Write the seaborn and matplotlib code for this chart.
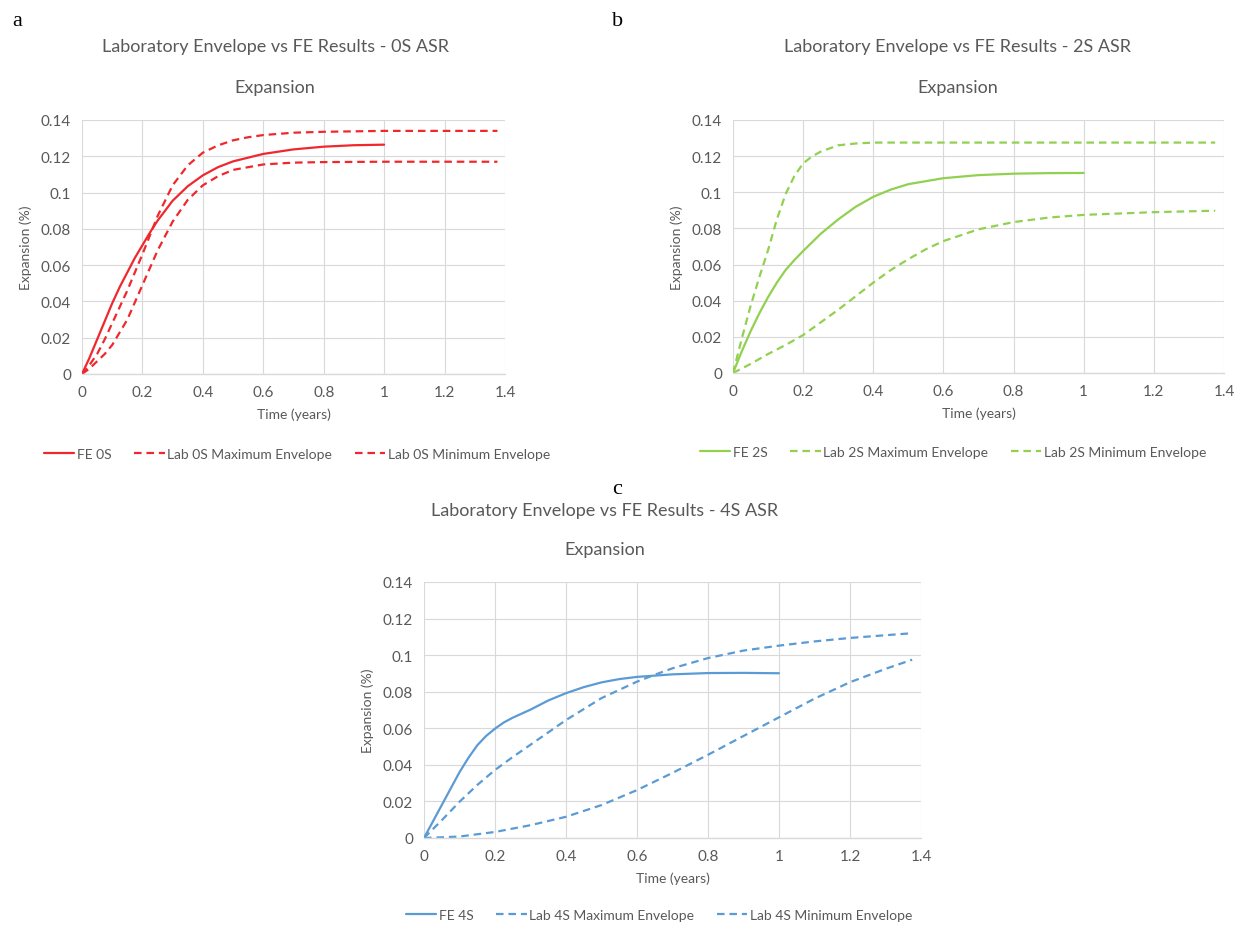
import matplotlib
matplotlib.use("Agg")
import matplotlib.pyplot as plt
import seaborn as sns
import pandas as pd

# ---------------- data ----------------
# Panel a (0S)
fe0_t = [0, 0.025, 0.05, 0.075, 0.1, 0.125, 0.15, 0.175, 0.2, 0.225, 0.25, 0.3, 0.35, 0.4, 0.45, 0.5, 0.6, 0.7, 0.8, 0.9, 1.0]
fe0_y = [0, 0.009, 0.019, 0.029, 0.039, 0.048, 0.056, 0.064, 0.071, 0.078, 0.0845, 0.0955, 0.1035, 0.1095, 0.114, 0.1172, 0.1213, 0.1238, 0.1253, 0.1261, 0.1264]
max0_t = [0, 0.025, 0.05, 0.075, 0.1, 0.15, 0.2, 0.25, 0.3, 0.35, 0.4, 0.45, 0.5, 0.55, 0.6, 0.7, 0.8, 1.0, 1.2, 1.375]
max0_y = [0, 0.005, 0.011, 0.019, 0.028, 0.046, 0.066, 0.087, 0.104, 0.115, 0.122, 0.126, 0.1288, 0.1305, 0.1317, 0.133, 0.1335, 0.134, 0.134, 0.134]
min0_t = [0, 0.025, 0.05, 0.075, 0.1, 0.15, 0.2, 0.25, 0.3, 0.35, 0.4, 0.45, 0.5, 0.6, 0.7, 0.8, 1.0, 1.2, 1.375]
min0_y = [0, 0.003, 0.007, 0.011, 0.016, 0.030, 0.049, 0.068, 0.084, 0.096, 0.104, 0.109, 0.1125, 0.1155, 0.1165, 0.1168, 0.117, 0.117, 0.117]

# Panel b (2S)
fe2_t = [0, 0.025, 0.05, 0.075, 0.1, 0.125, 0.15, 0.175, 0.2, 0.25, 0.3, 0.35, 0.4, 0.45, 0.5, 0.6, 0.7, 0.8, 0.9, 1.0]
fe2_y = [0, 0.012, 0.023, 0.033, 0.042, 0.050, 0.057, 0.0625, 0.0675, 0.077, 0.085, 0.092, 0.0975, 0.1015, 0.1045, 0.1078, 0.1095, 0.1103, 0.1106, 0.1107]
max2_t = [0, 0.025, 0.05, 0.075, 0.1, 0.125, 0.15, 0.175, 0.2, 0.225, 0.25, 0.3, 0.35, 0.4, 0.6, 0.8, 1.0, 1.2, 1.375]
max2_y = [0, 0.019, 0.037, 0.053, 0.068, 0.085, 0.099, 0.109, 0.116, 0.1198, 0.1225, 0.126, 0.127, 0.1275, 0.1275, 0.1275, 0.1275, 0.1275, 0.1275]
min2_t = [0, 0.05, 0.1, 0.15, 0.2, 0.25, 0.3, 0.35, 0.4, 0.45, 0.5, 0.55, 0.6, 0.7, 0.8, 0.9, 1.0, 1.2, 1.375]
min2_y = [0, 0.005, 0.0105, 0.0155, 0.021, 0.028, 0.035, 0.0425, 0.050, 0.057, 0.063, 0.0685, 0.073, 0.0795, 0.0835, 0.086, 0.0875, 0.089, 0.0898]

# Panel c (4S)
fe4_t = [0, 0.05, 0.1, 0.125, 0.15, 0.175, 0.2, 0.225, 0.25, 0.275, 0.3, 0.35, 0.4, 0.45, 0.5, 0.55, 0.6, 0.7, 0.8, 0.9, 1.0]
fe4_y = [0, 0.018, 0.036, 0.0438, 0.0507, 0.0558, 0.0598, 0.0632, 0.0658, 0.068, 0.0702, 0.0752, 0.0792, 0.0825, 0.0851, 0.0869, 0.0881, 0.0895, 0.0902, 0.0903, 0.0901]
max4_t = [0, 0.05, 0.1, 0.15, 0.2, 0.25, 0.3, 0.4, 0.5, 0.6, 0.65, 0.7, 0.8, 0.9, 1.0, 1.1, 1.2, 1.375]
max4_y = [0, 0.0097, 0.0198, 0.029, 0.0372, 0.0443, 0.051, 0.0645, 0.0765, 0.0855, 0.0893, 0.0928, 0.0984, 0.1025, 0.1052, 0.1075, 0.1094, 0.112]
min4_t = [0, 0.1, 0.2, 0.3, 0.4, 0.5, 0.6, 0.7, 0.8, 0.9, 1.0, 1.1, 1.2, 1.3, 1.375]
min4_y = [0, 0.0008, 0.0033, 0.007, 0.0116, 0.018, 0.0262, 0.0356, 0.0455, 0.0558, 0.066, 0.0762, 0.0852, 0.0925, 0.0975]

x_ticks = [0, 0.2, 0.4, 0.6, 0.8, 1.0, 1.2, 1.4]
x_tick_labels = ["0", "0.2", "0.4", "0.6", "0.8", "1", "1.2", "1.4"]
y_ticks = [0, 0.02, 0.04, 0.06, 0.08, 0.1, 0.12, 0.14]
y_tick_labels = ["0", "0.02", "0.04", "0.06", "0.08", "0.1", "0.12", "0.14"]

panels = [
    dict(letter="a", title=["Laboratory Envelope vs FE Results - 0S ASR", "Expansion"], color="#F0282D",
         series=[("FE 0S", fe0_t, fe0_y, "solid"),
                 ("Lab 0S Maximum Envelope", max0_t, max0_y, "dash"),
                 ("Lab 0S Minimum Envelope", min0_t, min0_y, "dash")]),
    dict(letter="b", title=["Laboratory Envelope vs FE Results - 2S ASR", "Expansion"], color="#92D050",
         series=[("FE 2S", fe2_t, fe2_y, "solid"),
                 ("Lab 2S Maximum Envelope", max2_t, max2_y, "dash"),
                 ("Lab 2S Minimum Envelope", min2_t, min2_y, "dash")]),
    dict(letter="c", title=["Laboratory Envelope vs FE Results - 4S ASR", "Expansion"], color="#5B9BD5",
         series=[("FE 4S", fe4_t, fe4_y, "solid"),
                 ("Lab 4S Maximum Envelope", max4_t, max4_y, "dash"),
                 ("Lab 4S Minimum Envelope", min4_t, min4_y, "dash")]),
]

# ---------------- layout (pixels) ----------------
W, H = 1245, 928
axes_px = [(82, 121, 505, 375), (733, 121, 1224, 374), (424, 583, 921, 839)]
title_px = [(275, 47, 88), (958, 47, 88), (605, 511, 550)]
legend_px = [(297, 455), (953, 453), (659, 916)]
letter_px = [(12, 22), (612, 22), (612, 490)]

sns.set_theme(style="white")
FONT = ["Lato", "DejaVu Sans"]
plt.rcParams["font.family"] = FONT
GRAY = "#595959"

fig = plt.figure(figsize=(W / 100, H / 100), dpi=100)

for p, (l, t, r, b), (tx, ty1, ty2), (lx, ly), (ax_, ay_) in zip(panels, axes_px, title_px, legend_px, letter_px):
    ax = fig.add_axes([l / W, 1 - b / H, (r - l) / W, (b - t) / H])
    for name, xs, ys, style in p["series"]:
        df = pd.DataFrame({"Time (years)": xs, "Expansion (%)": ys})
        ls = "-" if style == "solid" else (0, (3.4, 2.2))
        sns.lineplot(data=df, x="Time (years)", y="Expansion (%)", ax=ax, color=p["color"],
                     linewidth=1.6, linestyle=ls, label=name, sort=False, estimator=None)
    ax.set_xlim(0, 1.4)
    ax.set_ylim(0, 0.14)
    ax.set_xticks(x_ticks)
    ax.set_xticklabels(x_tick_labels)
    ax.set_yticks(y_ticks)
    ax.set_yticklabels(y_tick_labels)
    ax.grid(True, color="#D9D9D9", linewidth=0.8)
    ax.set_axisbelow(True)
    for s in ["top", "right", "left"]:
        ax.spines[s].set_visible(False)
    ax.spines["bottom"].set_color("#D9D9D9")
    ax.spines["bottom"].set_linewidth(1.0)
    ax.tick_params(axis="both", length=0, labelsize=11, labelcolor=GRAY, pad=8)
    ax.set_xlabel("Time (years)", fontsize=10, color=GRAY, labelpad=6)
    ax.set_ylabel("Expansion (%)", fontsize=10, color=GRAY, labelpad=6)
    h, lab = ax.get_legend_handles_labels()
    ax.legend_.remove()
    fig.legend(h, lab, loc="center", bbox_to_anchor=(lx / W, 1 - ly / H), ncol=3, frameon=False,
               fontsize=10, labelcolor=GRAY, handlelength=2.2, handletextpad=0.2, columnspacing=1.6)
    fig.text(tx / W, 1 - ty1 / H, p["title"][0], ha="center", va="center", fontsize=13, color=GRAY)
    fig.text(tx / W, 1 - ty2 / H, p["title"][1], ha="center", va="center", fontsize=13, color=GRAY)
    fig.text(ax_ / W, 1 - ay_ / H, p["letter"], ha="left", va="center", fontsize=16,
             color="black", family=["Liberation Serif", "DejaVu Serif"])

fig.savefig("out.png", dpi=100, facecolor="white")
